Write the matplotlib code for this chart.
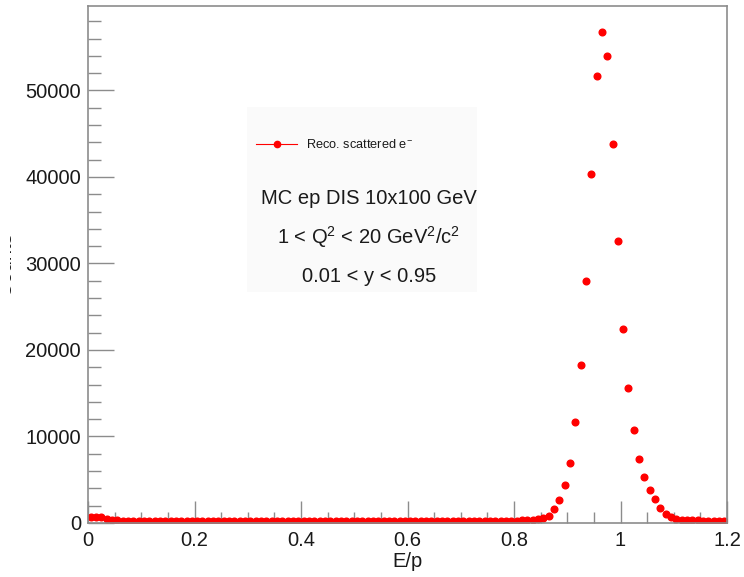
import matplotlib.pyplot as plt
import numpy as np
from matplotlib.patches import Rectangle

# bin centres of E/p (120 bins of width 0.01 between 0 and 1.2)
bin_lo = 0.0
bin_hi = 1.2
n_bins = 120
counts = [
    700, 750, 650, 450, 380, 320, 280, 250,
    230, 220, 215, 210, 205, 210, 200, 205, 200, 195, 200, 205,
    200, 195, 200, 205, 200, 210, 200, 195, 200, 205,
    200, 200, 195, 205, 200, 200, 210, 200, 205, 200,
    205, 200, 210, 205, 200, 205, 210, 205, 210, 200,
    205, 210, 215, 205, 210, 215, 210, 220, 215, 210,
    220, 215, 225, 220, 230, 225, 230, 235, 230, 240,
    245, 240, 250, 255, 250, 260, 265, 260, 270, 275,
    280, 300, 330, 370, 430, 540, 850, 1620, 2660, 4440,
    6940, 11650, 18250, 28000, 40360, 51660, 56750, 53970, 43800, 32560,
    22450, 15590, 10730, 7380, 5290, 3860, 2740, 1770, 1080, 660,
    440, 380, 340, 310, 290, 270, 250, 240, 230, 220,
]
xticks = [0, 0.2, 0.4, 0.6, 0.8, 1.0, 1.2]
xticklabels = ["0", "0.2", "0.4", "0.6", "0.8", "1", "1.2"]
yticks = [0, 10000, 20000, 30000, 40000, 50000]

legend_label = "Reco. scattered e$^{-}$"
info_lines = [
    "MC ep DIS 10x100 GeV",
    "1 < Q$^{2}$ < 20 GeV$^{2}$/c$^{2}$",
    "0.01 < y < 0.95",
]

edges = np.linspace(bin_lo, bin_hi, n_bins + 1)
centers = 0.5 * (edges[:-1] + edges[1:])
counts = np.array(counts, dtype=float)

plt.rcParams["font.family"] = ["Liberation Sans", "DejaVu Sans"]
plt.rcParams["mathtext.fontset"] = "custom"
plt.rcParams["mathtext.rm"] = "Liberation Sans"
plt.rcParams["mathtext.it"] = "Liberation Sans"

W, H = 744, 577
fig = plt.figure(figsize=(W / 100, H / 100), dpi=100)
left, right, top, bottom = 88, 727, 6, 523
ax = fig.add_axes([left / W, 1 - bottom / H, (right - left) / W, (bottom - top) / H])

frame_col = "#8c8c8c"
ax.plot(centers, counts, "o", color="#ff0000", markersize=4.8, linestyle="none")

ax.set_xlim(bin_lo, bin_hi)
ax.set_ylim(0, counts.max() * 1.053)
ax.set_xticks(xticks)
ax.set_xticklabels(xticklabels)
ax.set_xticks(np.arange(0, 1.2001, 0.05), minor=True)
ax.set_yticks(yticks)
ax.set_yticks(np.arange(0, 60000, 2000), minor=True)

for s in ax.spines.values():
    s.set_color(frame_col)
    s.set_linewidth(1.2)
ax.tick_params(axis="both", which="both", direction="in", colors=frame_col,
               labelcolor="#1a1a1a", labelsize=14.5, width=1.0)
ax.tick_params(axis="x", which="major", length=15.5, pad=6)
ax.tick_params(axis="x", which="minor", length=8)
ax.tick_params(axis="y", which="major", length=19, pad=5)
ax.tick_params(axis="y", which="minor", length=9.5)
ax.set_xlabel("E/p", fontsize=14.5, color="#1a1a1a", labelpad=1)


def fx(px):
    return px / W


def fy(py):
    return 1 - py / H


# legend / info panel
fig.patches.append(Rectangle((fx(247), fy(292)), fx(477) - fx(247), fy(107) - fy(292),
                             transform=fig.transFigure, facecolor="#fafafa",
                             edgecolor="none", zorder=0.5))
fig.add_artist(plt.Line2D([fx(256), fx(297)], [fy(144), fy(144)], color="#ff0000",
                          linewidth=0.8, transform=fig.transFigure))
fig.add_artist(plt.Line2D([fx(276.5)], [fy(144)], marker="o", color="#ff0000",
                          markersize=4.5, linestyle="none", transform=fig.transFigure))
fig.text(fx(306), fy(144), legend_label, fontsize=9.2, color="#1a1a1a",
         ha="left", va="center")

for txt, yy in zip(info_lines, [198, 237, 276]):
    fig.text(fx(369), fy(yy), txt, fontsize=14.5, color="#1a1a1a",
             ha="center", va="center")

# y-axis title, almost entirely hidden as in the original
fig.text(fx(15), fy(264), "Counts", fontsize=14.5, rotation=90,
         ha="right", va="center", color="#1a1a1a", zorder=3)
fig.add_artist(Rectangle((0, fy(320)), fx(9.5), fy(210) - fy(320),
                         transform=fig.transFigure, facecolor="white",
                         edgecolor="none", zorder=10))

fig.savefig("out.png", dpi=100)
